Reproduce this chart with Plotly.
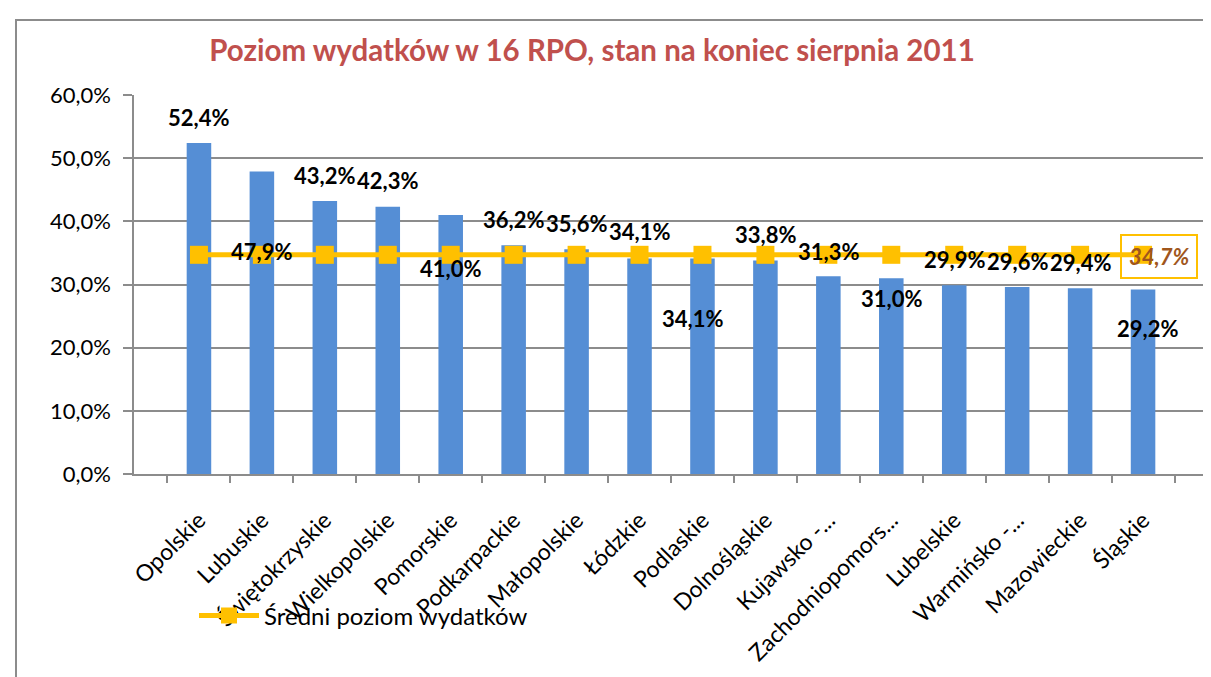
import plotly.graph_objects as go

categories = ["Opolskie", "Lubuskie", "Świętokrzyskie", "Wielkopolskie", "Pomorskie",
              "Podkarpackie", "Małopolskie", "Łódzkie", "Podlaskie", "Dolnośląskie",
              "Kujawsko -...", "Zachodniopomors...", "Lubelskie", "Warmińsko -...",
              "Mazowieckie", "Śląskie"]
values = [52.4, 47.9, 43.2, 42.3, 41.0, 36.2, 35.6, 34.1, 34.1, 33.8,
          31.3, 31.0, 29.9, 29.6, 29.4, 29.2]
average = 34.7
avg_values = [average] * len(categories)
y_ticks = [0, 10, 20, 30, 40, 50, 60]

# label offsets in pixels (style only)
label_yshift = [26, -80, 26, 26, -53, 26, 26, 27, -60, 26, 25, -20, 26, 26, 26, -39]
label_xshift = [0, 0, 0, 0, 0, 0, 0, 0, -10, 0, 0, 0, 0, 0, 0, 4]

FONT = "Lato, 'Open Sans', sans-serif"

L, R, T, B = 126, 11, 87, 211
W, H = 1211, 677
PW, PH = W - L - R, H - T - B


def pct(v):
    return f"{v:.1f}".replace(".", ",") + "%"


fig = go.Figure()
fig.add_trace(go.Bar(x=categories, y=values, marker_color="#558ED5",
                     marker_line_width=0, showlegend=False, hoverinfo="skip"))
fig.add_trace(go.Scatter(x=categories, y=avg_values, mode="lines+markers",
                         name="Średni poziom wydatków",
                         line=dict(color="#FFC000", width=5),
                         marker=dict(symbol="square", size=18, color="#FFC000")))

annotations = []
for i, (c, v) in enumerate(zip(categories, values)):
    annotations.append(dict(x=c, y=v, text="<b>" + pct(v) + "</b>", showarrow=False,
                            yshift=label_yshift[i], xshift=label_xshift[i],
                            font=dict(family=FONT, size=22, color="black")))
annotations.append(dict(x=categories[-1], y=average, text="<b><i>" + pct(average) + "</i></b>",
                        showarrow=False, xshift=16, yshift=-2,
                        font=dict(family=FONT, size=22, color="#A0561C"),
                        bordercolor="#FFC000", borderwidth=2, borderpad=7,
                        bgcolor="rgba(0,0,0,0)"))

fig.update_layout(
    width=W, height=H,
    margin=dict(l=L, r=R, t=T, b=B, autoexpand=False),
    paper_bgcolor="white", plot_bgcolor="white",
    separators=", ",
    bargap=0.61,
    title=dict(text="<b>Poziom wydatków w 16 RPO, stan na koniec sierpnia 2011</b>",
               x=584 / W, xanchor="center", y=1 - 43 / H, yanchor="middle",
               font=dict(family=FONT, size=29.5, color="#C0504D")),
    font=dict(family=FONT, size=22, color="black"),
    showlegend=True,
    legend=dict(x=(186 - L) / PW, xanchor="left", y=(466 - 608) / PH, yanchor="middle",
                bgcolor="rgba(0,0,0,0)", font=dict(family=FONT, size=24, color="black"),
                itemwidth=60),
    annotations=annotations,
    shapes=[dict(type="rect", xref="paper", yref="paper",
                 x0=(8 - L) / PW, x1=(1218 - L) / PW,
                 y0=(466 - 690) / PH, y1=(466 - 12) / PH,
                 line=dict(color="#8C8C8C", width=2), layer="below")],
)
fig.update_yaxes(range=[0, 60], tickvals=y_ticks, ticktext=[pct(t) for t in y_ticks],
                 showgrid=True, gridcolor="#8C8C8C", gridwidth=1.5,
                 showline=True, linecolor="#8C8C8C", linewidth=1.5,
                 ticks="outside", ticklen=9, tickcolor="#8C8C8C", tickwidth=1.5,
                 ticklabelstandoff=8,
                 tickfont=dict(family=FONT, size=22, color="black"), zeroline=False,
                 automargin=False)
fig.update_xaxes(tickangle=-45, showline=True, linecolor="#8C8C8C", linewidth=1.5,
                 ticks="outside", ticklen=7, tickcolor="#8C8C8C", tickwidth=1.5,
                 tickson="boundaries", showgrid=False, automargin=False,
                 ticklabelstandoff=22,
                 tickfont=dict(family=FONT, size=23, color="black"))

fig.write_html("out.html")
